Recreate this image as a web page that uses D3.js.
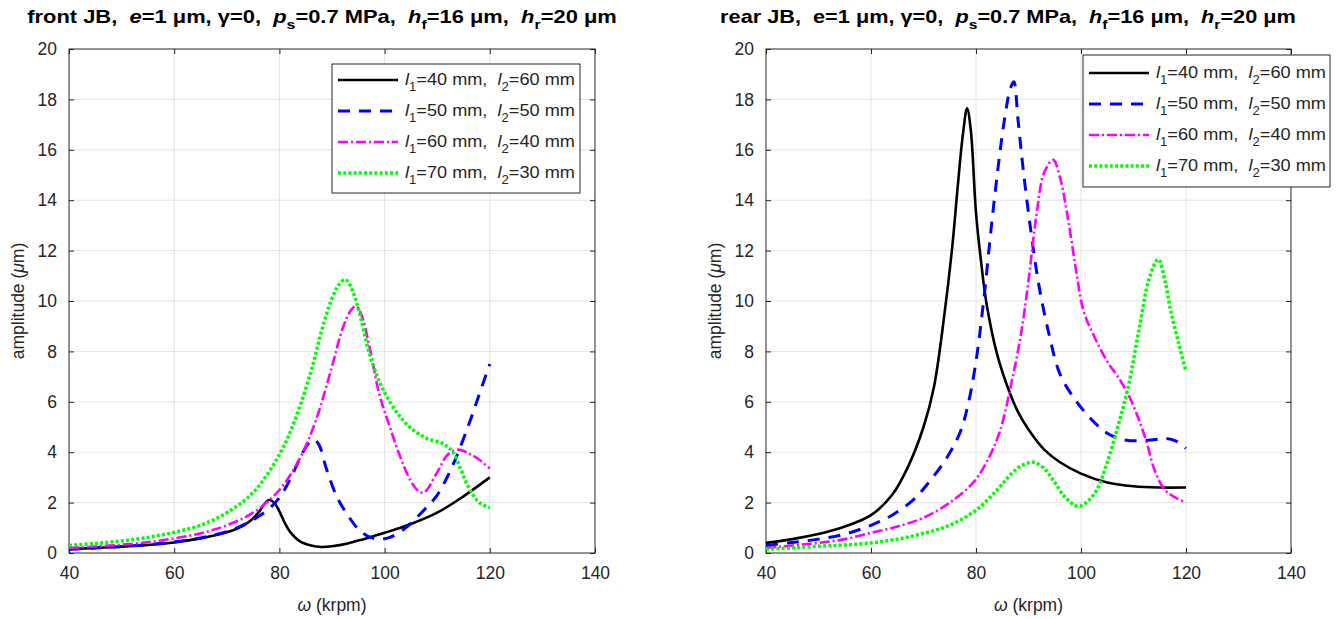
<!DOCTYPE html>
<html><head><meta charset="utf-8">
<script src="https://cdn.jsdelivr.net/npm/d3@7"></script>
<style>body{margin:0;background:#fff}svg{display:block}text{font-family:"Liberation Sans",Arial,sans-serif}</style>
</head><body>
<svg id="chart" width="1339" height="619"></svg>
<script>
const omegaTicks = [40, 60, 80, 100, 120, 140];
const ampTicks = [0, 2, 4, 6, 8, 10, 12, 14, 16, 18, 20];
const seriesLabels = [["40", "60"], ["50", "50"], ["60", "40"], ["70", "30"]];

// front JB
const frontBlackW = [40,45,50,55,60,65,70,72,74,76,77,78,79,80,81,82,84,86,88,90,93,96,100,105,110,115,120];
const frontBlackA = [0.15,0.2,0.25,0.32,0.42,0.58,0.82,0.97,1.2,1.6,1.9,2.1,2.0,1.65,1.2,0.85,0.45,0.3,0.24,0.27,0.38,0.55,0.8,1.15,1.6,2.25,3.0];
const frontBlueW = [40,45,50,55,60,65,70,74,78,80,82,84,85.5,86.5,87.5,89,91,93,95,97,99,101,104,107,110,113,116,118,120];
const frontBlueA = [0.15,0.2,0.26,0.33,0.44,0.6,0.85,1.2,1.75,2.2,2.9,3.8,4.35,4.5,4.3,3.3,2.2,1.5,0.95,0.65,0.55,0.62,1.0,1.6,2.3,3.5,5.1,6.3,7.5];
const frontMagW = [40,45,50,55,60,65,70,75,80,84,87,90,92,93.5,94.5,95.5,97,99,101,103,105,106.5,107.5,110,112,114,116,118,120];
const frontMagA = [0.2,0.26,0.33,0.43,0.58,0.78,1.1,1.6,2.5,3.8,5.3,7.4,8.9,9.6,9.8,9.5,8.3,6.3,5.0,3.8,2.85,2.45,2.4,3.2,3.9,4.1,3.95,3.7,3.35];
const frontGreenW = [40,45,50,55,60,65,70,75,80,83,86,88,90,91.5,92.5,93.5,95,97,99,101,103,105,108,111,113,114.5,116,118,120];
const frontGreenA = [0.3,0.38,0.48,0.62,0.82,1.1,1.6,2.4,3.9,5.3,7.2,8.8,10.1,10.7,10.85,10.6,9.7,8.0,6.8,6.0,5.4,4.95,4.55,4.35,4.0,3.3,2.6,2.0,1.8];

// rear JB
const rearBlackW = [40,45,50,55,60,64,67,70,72,74,75.5,76.5,77.5,78.3,79,80,81,82,84,86,88,90,93,96,100,105,110,115,120];
const rearBlackA = [0.4,0.55,0.75,1.05,1.5,2.3,3.4,5.0,6.6,9.5,12.2,14.5,16.6,17.65,16.8,13.5,11.5,9.9,7.9,6.6,5.6,4.9,4.1,3.6,3.15,2.8,2.65,2.6,2.6];
const rearBlueW = [40,45,50,55,60,64,68,71,74.5,77,78.5,80,81.5,83,84.5,85.5,86.5,87.2,88,89,90.5,92,94,96,99,102,105,108,111,114,116,118,120];
const rearBlueA = [0.3,0.42,0.55,0.75,1.1,1.5,2.1,2.8,3.8,4.8,5.9,7.6,10.1,13.1,15.8,17.3,18.4,18.7,17.2,15.2,12.7,10.6,8.6,7.1,6.05,5.3,4.75,4.5,4.45,4.5,4.55,4.45,4.15];
const rearMagW = [40,45,50,55,60,65,70,75,79.5,82,84.5,87,88.5,90,91.5,93,94.7,96,97.5,99,100.5,102.5,105,107,109,111,112.5,114,116,118,120];
const rearMagA = [0.2,0.3,0.4,0.55,0.8,1.05,1.4,2.0,2.8,3.6,4.8,7.0,8.6,10.8,13.4,15.1,15.6,14.9,13.3,11.3,9.6,8.6,7.6,7.0,6.3,5.3,4.4,3.3,2.5,2.2,2.0];
const rearGreenW = [40,45,50,55,60,65,70,75,80,84,87,89,91,93,95,97,99.4,101,103,105,107,109,111,113,114.7,116,117,118.5,120];
const rearGreenA = [0.15,0.2,0.27,0.32,0.4,0.55,0.78,1.1,1.7,2.5,3.2,3.5,3.6,3.35,2.8,2.2,1.85,2.0,2.5,3.6,5.0,6.6,8.8,10.9,11.65,10.8,9.7,8.4,7.2];

const styles = [
  {color:"#000000", width:2.6, dash:null},
  {color:"#0000ff", width:3, dash:"12,9"},
  {color:"#ff00ff", width:2.6, dash:"10,3,2,3"},
  {color:"#00ff00", width:3.5, dash:"3,2.2"}
];

const S = "\u00A0";
const panels = [
  {x0:69, x1:595, titleX:322, titleW:590,
   title:[{t:"front JB,"+S+S},{t:"e",i:1},{t:"=1 μm, γ=0,"+S+S},{t:"p",i:1},{t:"s",sub:1},{t:"=0.7 MPa,"+S+S},{t:"h",i:1},{t:"f",sub:1},{t:"=16 μm,"+S+S},{t:"h",i:1},{t:"r",sub:1},{t:"=20 μm"}],
   series:[[frontBlackW,frontBlackA],[frontBlueW,frontBlueA],[frontMagW,frontMagA],[frontGreenW,frontGreenA]],
   legend:{x:332, y:64, w:248, h:129, top:16}},
  {x0:766, x1:1291, titleX:1008, titleW:576,
   title:[{t:"rear JB,"+S+S+"e=1 μm, γ=0,"+S+S},{t:"p",i:1},{t:"s",sub:1},{t:"=0.7 MPa,"+S+S},{t:"h",i:1},{t:"f",sub:1},{t:"=16 μm,"+S+S},{t:"h",i:1},{t:"r",sub:1},{t:"=20 μm"}],
   series:[[rearBlackW,rearBlackA],[rearBlueW,rearBlueA],[rearMagW,rearMagA],[rearGreenW,rearGreenA]],
   legend:{x:1083, y:55, w:247, h:132, top:18}}
];

const Y0 = 49, Y1 = 553;
const svg = d3.select("#chart");
const axisCol = "#262626";

function rich(textSel, parts, size) {
  let back = 0;
  parts.forEach(p => {
    const ts = textSel.append("tspan").text(p.t);
    if (p.sub) {
      ts.attr("dy", size * 0.35).attr("font-size", size * 0.72);
      back = -size * 0.35;
    } else {
      if (back) { ts.attr("dy", back); back = 0; }
      if (p.i) ts.attr("font-style", "italic");
    }
  });
}
function placeStretched(textSel, x, y, target) {
  const len = textSel.node().getComputedTextLength();
  const sx = target / len;
  textSel.attr("x", 0).attr("y", 0).attr("transform", `translate(${x},${y}) scale(${sx},1)`);
}

panels.forEach(P => {
  const x = d3.scaleLinear().domain([40, 140]).range([P.x0, P.x1]);
  const y = d3.scaleLinear().domain([0, 20]).range([Y1, Y0]);
  const g = svg.append("g");

  g.append("g").selectAll("line").data(omegaTicks.slice(1, -1)).join("line")
    .attr("x1", d => x(d)).attr("x2", d => x(d)).attr("y1", Y0).attr("y2", Y1)
    .attr("stroke", "#e5e5e5").attr("stroke-width", 1);
  g.append("g").selectAll("line").data(ampTicks.slice(1, -1)).join("line")
    .attr("y1", d => y(d)).attr("y2", d => y(d)).attr("x1", P.x0).attr("x2", P.x1)
    .attr("stroke", "#e5e5e5").attr("stroke-width", 1);

  const xa = g.append("g").attr("transform", `translate(0,${Y1})`)
    .call(d3.axisBottom(x).tickValues(omegaTicks).tickSize(-5).tickPadding(14).tickFormat(d3.format("d")));
  const xt = g.append("g").attr("transform", `translate(0,${Y0})`)
    .call(d3.axisTop(x).tickValues(omegaTicks).tickSize(-5).tickFormat(""));
  const ya = g.append("g").attr("transform", `translate(${P.x0},0)`)
    .call(d3.axisLeft(y).tickValues(ampTicks).tickSize(-5).tickPadding(12).tickFormat(d3.format("d")));
  const yr = g.append("g").attr("transform", `translate(${P.x1},0)`)
    .call(d3.axisRight(y).tickValues(ampTicks).tickSize(-5).tickFormat(""));
  [xa, xt, ya, yr].forEach(a => {
    a.select(".domain").remove();
    a.selectAll("line").attr("stroke", axisCol);
    a.selectAll("text").attr("fill", axisCol).attr("font-size", 17.5).attr("font-family", '"Liberation Sans",Arial,sans-serif');
  });
  g.append("rect").attr("x", P.x0).attr("y", Y0).attr("width", P.x1 - P.x0).attr("height", Y1 - Y0)
    .attr("fill", "none").attr("stroke", axisCol).attr("stroke-width", 1);

  const clipId = "clip" + P.x0;
  svg.append("clipPath").attr("id", clipId).append("rect")
    .attr("x", P.x0).attr("y", Y0).attr("width", P.x1 - P.x0).attr("height", Y1 - Y0);
  const line = d3.line().x(d => x(d[0])).y(d => y(d[1])).curve(d3.curveCatmullRom.alpha(0.5));
  P.series.forEach((s, i) => {
    const pts = s[0].map((w, k) => [w, s[1][k]]);
    const st = styles[i];
    g.append("path").datum(pts).attr("d", line).attr("fill", "none")
      .attr("clip-path", `url(#${clipId})`)
      .attr("stroke", st.color).attr("stroke-width", st.width)
      .attr("stroke-dasharray", st.dash).attr("stroke-linejoin", "round");
  });

  const tt = g.append("text").attr("text-anchor", "middle")
    .attr("font-size", 18).attr("font-weight", "bold").attr("fill", "#000");
  rich(tt, P.title, 18);
  placeStretched(tt, P.titleX, 23, P.titleW);

  const cx = (P.x0 + P.x1) / 2;
  const xl = g.append("text").attr("x", cx).attr("y", 611).attr("text-anchor", "middle")
    .attr("font-size", 17.5).attr("fill", axisCol);
  xl.append("tspan").attr("font-style", "italic").text("ω");
  xl.append("tspan").text(" (krpm)");
  const yl = g.append("text").attr("transform", `translate(${P.x0 - 45},${(Y0 + Y1) / 2}) rotate(-90)`)
    .attr("text-anchor", "middle").attr("font-size", 17.5).attr("fill", axisCol);
  yl.append("tspan").text("amplitude (");
  yl.append("tspan").attr("font-style", "italic").text("μ");
  yl.append("tspan").text("m)");

  const L = P.legend;
  const lg = g.append("g");
  lg.append("rect").attr("x", L.x).attr("y", L.y).attr("width", L.w).attr("height", L.h)
    .attr("fill", "#fff").attr("stroke", axisCol).attr("stroke-width", 1);
  seriesLabels.forEach((lab, i) => {
    const cy = L.y + L.top + 31 * i;
    const st = styles[i];
    lg.append("line").attr("x1", L.x + 6).attr("x2", L.x + 66).attr("y1", cy).attr("y2", cy)
      .attr("stroke", st.color).attr("stroke-width", st.width).attr("stroke-dasharray", st.dash);
    const t = lg.append("text").attr("font-size", 17).attr("fill", axisCol);
    rich(t, [{t:"l",i:1},{t:"1",sub:1},{t:"=" + lab[0] + " mm," + S + S},{t:"l",i:1},{t:"2",sub:1},{t:"=" + lab[1] + " mm"}], 17);
    placeStretched(t, L.x + 73, cy + 5, 170);
  });
});
</script>
</body></html>
